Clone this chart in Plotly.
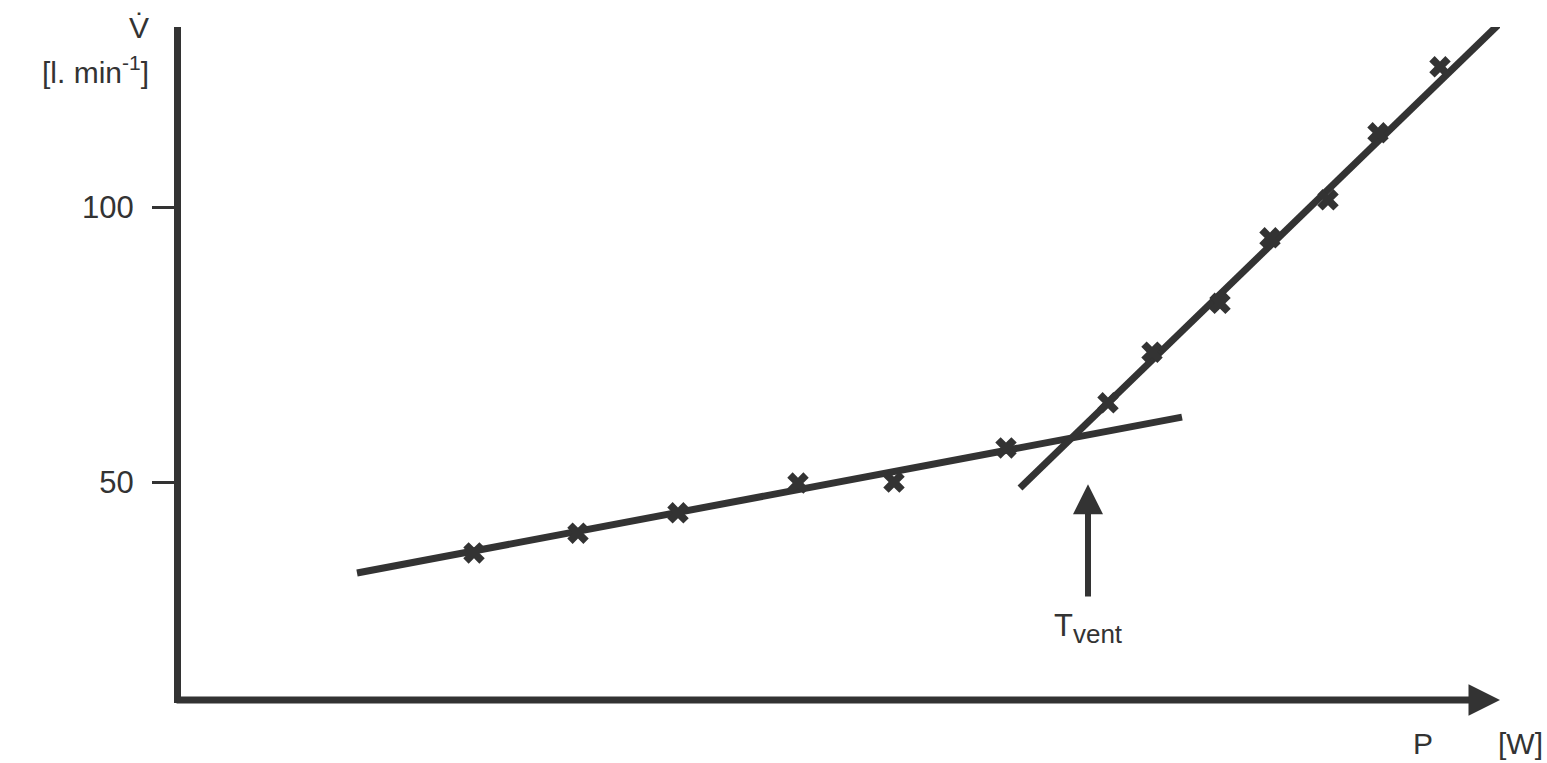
import plotly.graph_objects as go

# measured points, power P [W] (arbitrary scale) vs ventilation [l/min]
p_low = [74, 100, 125, 155, 179, 207]
v_low = [37.1, 40.7, 44.4, 49.8, 50.0, 56.2]
p_high = [232.5, 243.5, 260.5, 273, 287.5, 300, 315.5]
v_high = [64.4, 73.6, 82.5, 94.4, 101.3, 113.5, 125.5]

# hand-drawn regression lines
fit_low_p = [44.75, 251]
fit_low_v = [33.45, 61.8]
fit_high_p = [210.5, 330]
fit_high_v = [48.9, 133.1]

# threshold arrow
t_vent_p = 227.5
t_vent_v = [28.9, 49.6]

y_ticks = [50, 100]
x_range = [0.75, 330.5]
y_range = [9.82, 132.73]
x_axis_v = 10.36

ink = "#333333"
font = "Liberation Sans, Arial, sans-serif"

fig = go.Figure()
fig.add_trace(go.Scatter(x=fit_low_p, y=fit_low_v, mode="lines",
                         line=dict(color=ink, width=7), hoverinfo="skip"))
fig.add_trace(go.Scatter(x=fit_high_p, y=fit_high_v, mode="lines",
                         line=dict(color=ink, width=7), hoverinfo="skip"))
fig.add_trace(go.Scatter(x=p_low + p_high, y=v_low + v_high, mode="markers",
                         marker=dict(symbol="x", size=19, color=ink,
                                     line=dict(width=0))))

# x axis drawn as an arrow
fig.add_annotation(x=1, xref="paper", y=x_axis_v, yref="y",
                   ax=-1325, ay=0, axref="pixel", ayref="pixel",
                   showarrow=True, arrowhead=2, arrowsize=0.9, arrowwidth=7,
                   arrowcolor=ink, text="")

# T_vent arrow + label
fig.add_annotation(x=t_vent_p, y=t_vent_v[1], ax=t_vent_p, ay=t_vent_v[0],
                   xref="x", yref="y", axref="x", ayref="y",
                   showarrow=True, arrowhead=2, arrowsize=1, arrowwidth=6,
                   arrowcolor=ink, text="")
fig.add_annotation(x=t_vent_p, y=t_vent_v[0], xref="x", yref="y",
                   yanchor="top", yshift=-8, showarrow=False,
                   text="T<sub><span style='font-size:26px'>vent</span></sub>",
                   font=dict(size=31, color=ink, family=font))

# axis titles
fig.add_annotation(x=-0.0318, y=1.0, xref="paper", yref="paper",
                   xanchor="center", yanchor="middle", showarrow=False,
                   text="V\u0307", font=dict(size=30, color=ink, family=font))
fig.add_annotation(x=-0.0227, y=0.936, xref="paper", yref="paper",
                   xanchor="right", yanchor="middle", showarrow=False,
                   text="[l. min<sup>-1</sup>]", font=dict(size=30, color=ink, family=font))
fig.add_annotation(x=0.9418, y=-0.06, xref="paper", yref="paper",
                   xanchor="center", yanchor="middle", showarrow=False,
                   text="P", font=dict(size=30, color=ink, family=font))
fig.add_annotation(x=1.0159, y=-0.06, xref="paper", yref="paper",
                   xanchor="center", yanchor="middle", showarrow=False,
                   text="[W]", font=dict(size=30, color=ink, family=font))

fig.update_xaxes(range=x_range, showgrid=False, zeroline=False,
                 showticklabels=False, ticks="", showline=False)
fig.update_yaxes(range=y_range, showgrid=False, zeroline=False,
                 showline=True, linewidth=7, linecolor=ink,
                 tickvals=y_ticks, ticks="outside", ticklen=22, tickwidth=3,
                 tickcolor=ink, ticklabelstandoff=12,
                 tickfont=dict(size=31, color=ink, family=font))
fig.update_layout(width=1547, height=763, showlegend=False,
                  margin=dict(l=181, r=47, t=27, b=60),
                  plot_bgcolor="white", paper_bgcolor="white")

# drop the browser's default body margin so the figure sits at the page corner
fig.write_html("out.html", config={"displayModeBar": False},
               post_script="document.body.style.margin='0';"
                           "document.body.style.overflow='hidden';")
